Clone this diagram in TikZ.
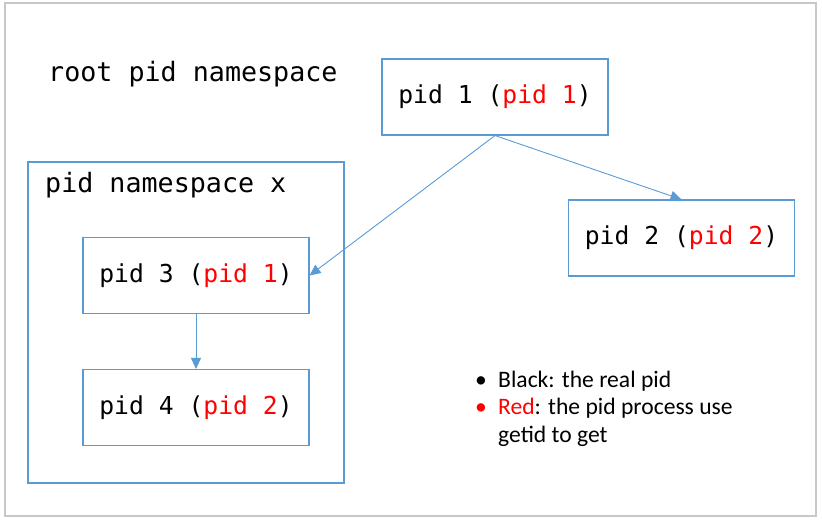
\documentclass[tikz,border=0pt]{standalone}
\usepackage{fontspec}
\setmainfont{Carlito}
\setmonofont{DejaVu Sans Mono}
\usetikzlibrary{arrows.meta}

\definecolor{boxblue}{RGB}{91,155,213}
\definecolor{framegray}{RGB}{200,200,200}

\tikzset{
  pidbox/.style={draw=boxblue, line width=1.1pt, minimum width=226pt, minimum height=76pt,
    inner sep=0pt, font=\fontsize{24.7}{28}\selectfont\ttfamily},
  nsbox/.style={draw=boxblue, line width=1.1pt, minimum width=316pt, minimum height=321pt, inner sep=0pt},
  nstitle/.style={anchor=base west, inner sep=0pt, font=\fontsize{26.7}{30}\selectfont\ttfamily},
  keytext/.style={anchor=base west, inner sep=0pt, font=\fontsize{23.6}{28}\selectfont},
  link/.style={draw=boxblue, line width=0.9pt, -{Triangle[length=11pt,width=10pt]}},
}
\newcommand{\rpid}[1]{\textcolor{red}{pid #1}}

\begin{document}
\begin{tikzpicture}[x=1pt, y=-1pt, node distance=132pt]
\useasboundingbox (0,0) rectangle (822,524);
\draw [framegray, line width=1.2pt] (5,3) rectangle (816,516);

% root namespace
\node [nstitle] (root) at (48,82) {root pid namespace};
\node [pidbox] (p1) at (495,97) {pid 1 (\rpid{1})};
\node [pidbox] (p2) at (681.5,238) {pid 2 (\rpid{2})};

% namespace x
\node [nsbox] (nsx) at (186,322.5) {};
\node [nstitle] (nsxname) at (45,192) {pid namespace x};
\node [pidbox] (p3) at (196,275.5) {pid 3 (\rpid{1})};
\node [pidbox, below of=p3] (p4) {pid 4 (\rpid{2})};

\draw [link] (p1.south) -- (p2.north);
\draw [link] (p1.south) -- (p3.east);
\draw [link] (p3.south) -- (p4.north);

% legend
\node [keytext] (dot1) at (475,387) {•};
\node [keytext] (key1) at (498,387) {Black: the real pid};
\node [keytext, text=red] (dot2) at (475,414) {•};
\node [keytext] (key2) at (498,414) {\textcolor{red}{Red}: the pid process use};
\node [keytext] (key3) at (498,442) {getid to get};
\end{tikzpicture}
\end{document}
